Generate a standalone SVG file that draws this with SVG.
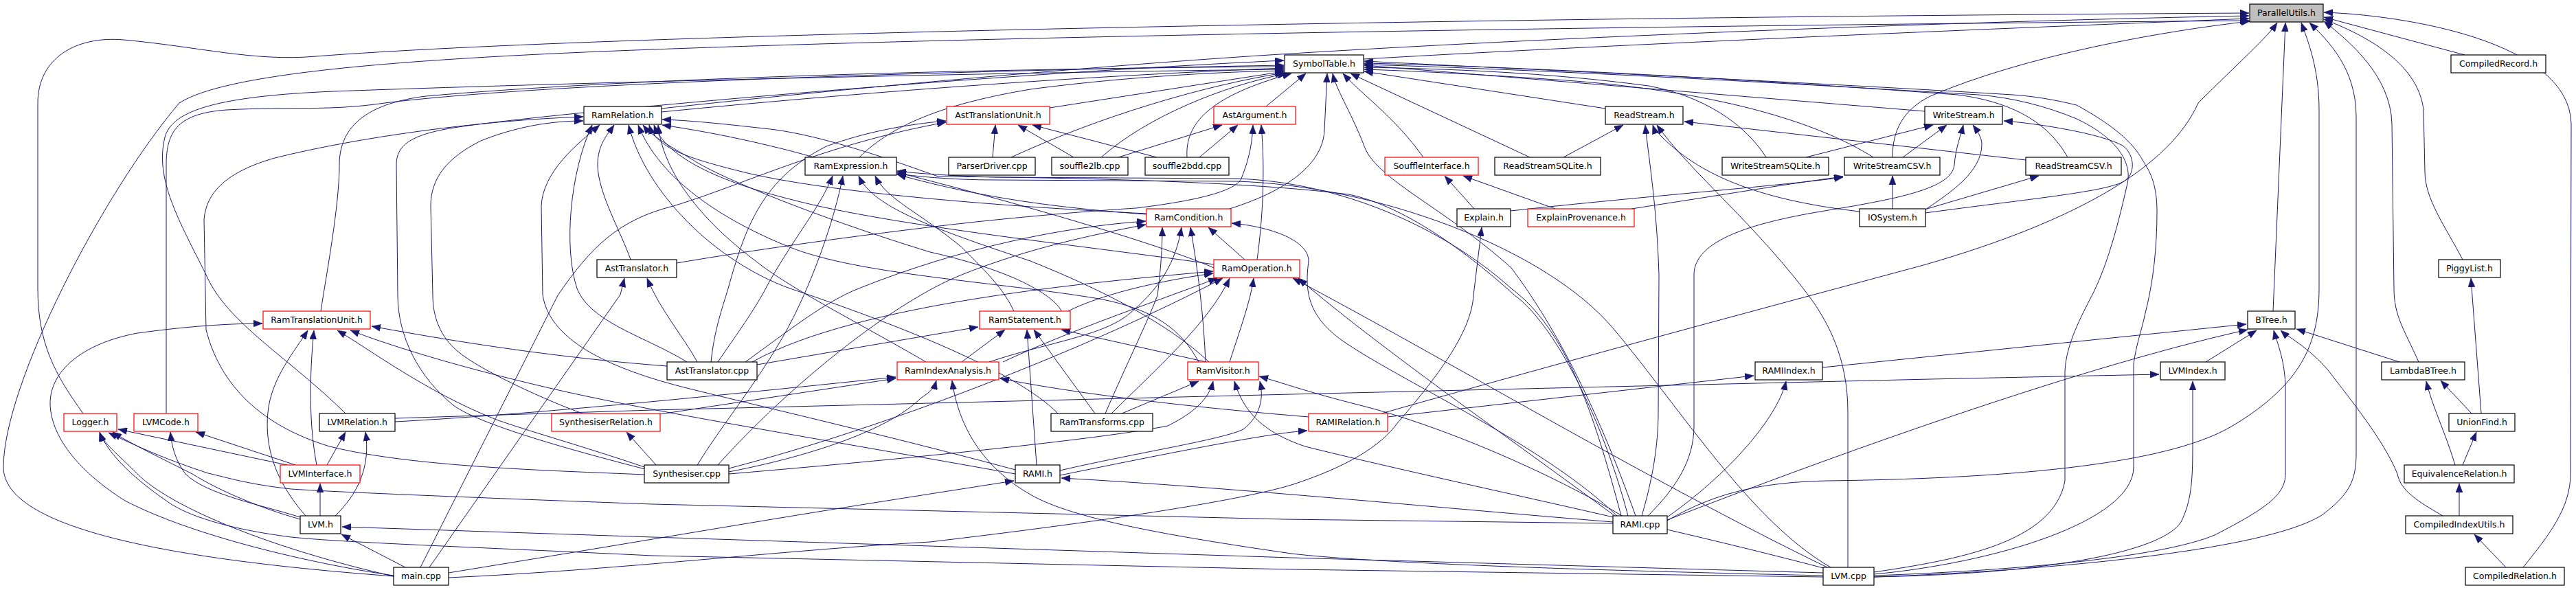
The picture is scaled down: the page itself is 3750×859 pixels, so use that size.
<svg xmlns="http://www.w3.org/2000/svg" width="3750" height="859" viewBox="0 0 3750 859">
<defs>
<marker id="ah" viewBox="0 0 13 10" refX="13" refY="5" markerWidth="13" markerHeight="10" markerUnits="userSpaceOnUse" orient="auto"><path d="M0,0L13,5L0,10z" fill="#191970" stroke="#191970" stroke-width="0.5"/></marker>
<style>
.e{fill:none;stroke:#191970;stroke-width:1;marker-end:url(#ah)}
.n rect{fill:#ffffff;stroke:#000000;stroke-width:1.2}
.r rect{fill:#ffffff;stroke:#ff0000;stroke-width:1.2}
.g rect{fill:#bfbfbf;stroke:#000000;stroke-width:1.2}
text{font-family:"DejaVu Sans","Liberation Sans",Arial,sans-serif;font-size:12.5px;text-anchor:middle;fill:#000000}
</style>
</defs>
<rect width="3750" height="859" fill="#ffffff"/>
<g id="edges">
<path class="e" d="M121,602 C80,545 55,500 55,420 L55,150 C55,85 110,52 180,58 C290,68 370,90 460,82 C900,48 2200,25 3274,19"/>
<path class="e" d="M573,839 C250,815 5,770 5,680 C5,560 150,280 261,150 C330,105 600,85 950,72 C1600,48 2600,36 3274,30"/>
<path class="e" d="M1985,86 C2400,62 3000,38 3274,27"/>
<path class="e" d="M963,158 C1200,132 1600,95 1880,78 C2300,52 2900,30 3274,23"/>
<path class="e" d="M2755,229 C2755,190 2770,160 2810,140 C2950,80 3150,45 3275,31"/>
<path class="e" d="M2011,602 C2300,520 2600,440 2800,386 C3030,320 3160,240 3200,150 C3260,90 3300,55 3315,33"/>
<path class="e" d="M3309,453 L3327,33"/>
<path class="e" d="M2427,758 C2500,715 2570,702 2660,700 C2900,697 3150,680 3250,620 C3350,560 3376,500 3376,420 L3376,160 C3376,100 3360,60 3350,33"/>
<path class="e" d="M2728,840 C3000,830 3300,800 3380,750 C3420,720 3430,700 3430,660 L3430,170 C3430,100 3390,60 3362,33"/>
<path class="e" d="M3521,527 C3500,480 3485,460 3485,420 L3482,180 C3480,110 3420,60 3383,31"/>
<path class="e" d="M3585,378 C3560,330 3530,290 3530,250 L3528,160 C3520,90 3440,50 3383,28"/>
<path class="e" d="M3588,80 L3383,25"/>
<path class="e" d="M3673,826 C3710,780 3742,740 3742,690 L3743,180 C3740,60 3500,22 3383,18"/>
<path class="e" d="M1843,155 L1901,107"/>
<path class="e" d="M1790,304 C1850,285 1925,250 1928,190 L1932,107"/>
<path class="e" d="M2381,751 C2320,580 2260,470 2200,390 C2100,300 2000,260 1985,210 C1965,160 1945,130 1940,107"/>
<path class="e" d="M2072,229 C2030,170 1985,140 1955,107"/>
<path class="e" d="M2227,229 L1966,107"/>
<path class="e" d="M2337,158 L1986,104"/>
<path class="e" d="M2571,229 C2540,180 2480,140 2400,125 C2250,105 2100,100 1986,98"/>
<path class="e" d="M2727,229 C2650,180 2500,130 2250,115 C2150,108 2050,103 1986,101"/>
<path class="e" d="M2802,162 L1986,95"/>
<path class="e" d="M3010,229 C2985,185 2940,150 2850,138 C2500,112 2200,97 1986,92"/>
<path class="e" d="M2728,836 C2900,820 3106,760 3106,680 L3106,530 C3110,500 3118,480 3122,460 C3135,410 3140,360 3140,307 C3140,270 3130,250 3123,240 C3110,215 3090,190 3023,153 C2990,145 2960,140 2930,138 C2600,118 2200,100 1986,89"/>
<path class="e" d="M963,163 C1300,130 1600,110 1869,99"/>
<path class="e" d="M1528,157 L1869,104"/>
<path class="e" d="M1472,229 C1600,170 1750,125 1869,106"/>
<path class="e" d="M1603,229 C1670,170 1780,125 1873,107"/>
<path class="e" d="M1728,229 C1725,180 1760,140 1880,107"/>
<path class="e" d="M1251,229 C1300,180 1380,150 1500,130 C1650,110 1800,104 1869,103"/>
<path class="e" d="M467,453 C475,400 494,300 494,240 C494,180 540,150 620,140 C900,115 1400,100 1869,97"/>
<path class="e" d="M242,602 L242,240 C242,190 260,165 330,160 C420,155 480,162 560,150 C800,120 1400,103 1869,95"/>
<path class="e" d="M503,602 C420,520 330,470 300,400 C260,320 225,260 240,200 C250,160 320,140 485,133 C900,118 1500,105 1869,101"/>
<path class="e" d="M939,683 C850,660 700,620 660,590 C610,550 579,490 579,430 L577,240 C577,210 600,195 667,185 C800,165 1400,110 1869,88"/>
<path class="e" d="M1445,229 L1449,182"/>
<path class="e" d="M1563,229 L1482,182"/>
<path class="e" d="M1684,229 L1503,182"/>
<path class="e" d="M1035,527 C1040,480 1051,450 1060,420 C1085,330 1110,260 1203,213 C1260,192 1320,181 1377,176"/>
<path class="e" d="M612,826 L812,430 C860,360 900,320 980,300 C1080,270 1200,210 1377,178"/>
<path class="e" d="M1628,229 L1779,182"/>
<path class="e" d="M1746,229 L1802,182"/>
<path class="e" d="M985,383 C1150,355 1350,330 1450,320 C1550,310 1620,305 1654,303 C1760,290 1800,275 1807,260 C1815,240 1823,215 1824,182"/>
<path class="e" d="M1830,378 C1838,320 1842,250 1836,182"/>
<path class="e" d="M939,691 C800,685 600,680 480,650 C380,620 320,560 300,480 L297,320 C300,280 330,250 400,230 C520,200 700,175 849,170"/>
<path class="e" d="M848,602 C800,585 700,540 667,512 C640,490 630,460 630,430 L627,300 C627,260 650,230 700,205 C750,185 800,176 849,176"/>
<path class="e" d="M1478,684 C1300,636 1100,590 1000,565 C900,540 800,500 790,429 L788,300 C790,250 840,210 873,182"/>
<path class="e" d="M918,378 C905,340 870,280 870,240 C870,210 885,195 894,182"/>
<path class="e" d="M1185,229 C1100,205 1020,190 964,182"/>
<path class="e" d="M1669,311 C1450,300 1200,280 1080,250 C1000,230 955,215 945,182"/>
<path class="e" d="M2370,751 C2330,600 2260,470 2205,430 C2150,380 2050,300 1963,283 C1800,262 1500,258 1366,257 C1330,245 1200,195 1112,187 C1050,180 1000,175 964,174"/>
<path class="e" d="M1767,385 C1600,360 1300,330 1150,290 C1050,265 970,230 952,182"/>
<path class="e" d="M1545,453 C1540,440 1500,400 1354,367 C1200,320 1050,260 1009,233 C980,215 950,200 936,182"/>
<path class="e" d="M1348,527 C1250,470 1150,420 1100,380 C1020,320 965,250 958,182"/>
<path class="e" d="M1745,527 C1720,480 1680,450 1600,435 C1450,410 1250,400 1150,360 C1050,320 960,260 929,182"/>
<path class="e" d="M1540,602 C1480,540 1300,470 1150,420 C1040,380 940,280 915,182"/>
<path class="e" d="M1000,527 C940,490 860,470 840,420 C820,360 830,250 862,182"/>
<path class="e" d="M1669,312 C1500,300 1400,280 1306,254"/>
<path class="e" d="M1767,390 C1700,360 1500,300 1306,251"/>
<path class="e" d="M1476,453 C1460,420 1440,400 1400,360 C1340,310 1290,290 1274,256"/>
<path class="e" d="M1760,527 C1700,470 1600,420 1500,380 C1350,330 1270,300 1250,256"/>
<path class="e" d="M1045,527 C1070,490 1100,450 1120,410 C1160,340 1195,300 1212,256"/>
<path class="e" d="M1015,677 C1050,620 1100,560 1140,490 C1180,420 1215,320 1227,256"/>
<path class="e" d="M2360,751 C2320,600 2280,480 2200,420 C2100,330 1950,265 1800,260 L1450,258 C1380,256 1330,252 1306,249"/>
<path class="e" d="M2665,826 C2550,760 2450,600 2350,480 C2250,360 2000,270 1800,264 L1450,262 C1380,262 1330,256 1306,253"/>
<path class="e" d="M1812,378 L1759,331"/>
<path class="e" d="M1755,527 C1752,460 1745,400 1733,331"/>
<path class="e" d="M1440,527 C1520,500 1600,490 1640,460 C1690,420 1712,380 1720,331"/>
<path class="e" d="M1609,602 C1640,530 1670,470 1685,430 C1690,390 1692,360 1692,331"/>
<path class="e" d="M1085,527 C1150,480 1200,440 1250,420 C1400,360 1550,330 1668,322"/>
<path class="e" d="M1045,677 C1150,560 1300,440 1400,400 C1500,360 1600,340 1668,327"/>
<path class="e" d="M2355,752 C2250,650 2050,560 1960,500 C1900,460 1900,420 1905,380 C1905,350 1850,330 1793,325"/>
<path class="e" d="M1555,453 C1600,430 1680,410 1766,398"/>
<path class="e" d="M1790,527 C1805,480 1820,440 1825,405"/>
<path class="e" d="M1460,527 C1560,480 1680,440 1772,405"/>
<path class="e" d="M1095,527 C1250,440 1600,410 1766,395"/>
<path class="e" d="M1618,602 C1680,540 1760,470 1790,405"/>
<path class="e" d="M1061,682 C1300,620 1600,500 1780,405"/>
<path class="e" d="M2352,752 C2200,640 2000,500 1890,405"/>
<path class="e" d="M2660,826 C2400,700 2100,520 1882,405"/>
<path class="e" d="M1400,527 L1463,480"/>
<path class="e" d="M1509,677 L1495,480"/>
<path class="e" d="M1594,602 L1505,480"/>
<path class="e" d="M1756,527 L1545,480"/>
<path class="e" d="M1102,531 L1424,476"/>
<path class="e" d="M575,614 C800,602 1100,570 1304,549"/>
<path class="e" d="M961,603 L1304,551"/>
<path class="e" d="M1061,687 C1200,660 1300,620 1340,580 C1355,570 1360,565 1363,554"/>
<path class="e" d="M2654,838 C2300,830 2000,820 1880,806 C1700,780 1560,755 1500,720 C1430,680 1395,620 1386,554"/>
<path class="e" d="M1905,607 C1700,590 1550,570 1456,551"/>
<path class="e" d="M1633,602 L1745,555"/>
<path class="e" d="M1061,690 C1300,670 1600,640 1700,620 C1740,600 1760,580 1766,555"/>
<path class="e" d="M1543,685 C1650,660 1780,640 1810,625 C1835,605 1840,580 1834,555"/>
<path class="e" d="M2363,752 C2260,690 2100,620 1980,590 C1900,570 1860,555 1833,548"/>
<path class="e" d="M2658,828 C2400,760 2100,700 1900,650 C1840,630 1810,600 1797,555"/>
<path class="e" d="M2020,607 L2553,547"/>
<path class="e" d="M2427,753 C2530,680 2590,600 2600,555"/>
<path class="e" d="M1543,692 C1700,660 1850,630 1903,627"/>
<path class="e" d="M2348,760 C2100,740 1800,710 1545,696"/>
<path class="e" d="M653,834 C800,810 950,785 1100,760 C1250,735 1400,712 1476,700"/>
<path class="e" d="M2276,229 L2363,182"/>
<path class="e" d="M2949,233 L2452,177"/>
<path class="e" d="M2390,751 C2405,700 2414,650 2414,600 L2415,400 C2412,300 2400,230 2395,182"/>
<path class="e" d="M2707,308 C2550,290 2470,250 2420,200 C2412,192 2408,188 2406,182"/>
<path class="e" d="M2690,826 L2690,600 C2690,520 2660,470 2640,440 C2560,330 2460,250 2412,182"/>
<path class="e" d="M2629,229 L2814,182"/>
<path class="e" d="M2770,229 L2834,182"/>
<path class="e" d="M2399,751 C2440,710 2466,670 2466,620 L2466,400 C2466,350 2550,325 2650,308 C2760,290 2842,275 2845,240 C2847,215 2855,195 2858,182"/>
<path class="e" d="M2803,305 C2840,280 2885,250 2885,210 C2885,200 2878,190 2872,182"/>
<path class="e" d="M2803,310 C2950,290 3060,280 3090,265 C3110,255 3108,225 3090,212 C3060,195 2970,180 2917,176"/>
<path class="e" d="M2728,833 C2850,815 2990,790 3006,700 L3006,540 C3008,500 3030,460 3048,425 C3070,380 3085,320 3097,267 C3104,235 3080,200 3023,173 C2980,155 2930,142 2880,138 C2500,115 2200,100 1986,94"/>
<path class="e" d="M2199,307 C2400,285 2600,270 2683,258"/>
<path class="e" d="M2375,304 C2500,285 2600,268 2683,257"/>
<path class="e" d="M2755,304 L2755,256"/>
<path class="e" d="M2802,305 L2968,256"/>
<path class="e" d="M2146,304 L2103,256"/>
<path class="e" d="M2264,304 L2130,256"/>
<path class="e" d="M653,841 C900,830 1150,800 1354,789 C1600,760 1800,730 1880,706 C1960,680 2010,650 2035,615 C2100,540 2142,480 2145,430 L2157,331"/>
<path class="e" d="M2653,535 L3270,472"/>
<path class="e" d="M2427,757 C2600,690 3000,540 3272,480"/>
<path class="e" d="M3211,527 L3285,481"/>
<path class="e" d="M2728,838 C2950,830 3150,810 3224,779 C3300,740 3327,720 3327,690 L3327,560 C3325,520 3315,500 3310,481"/>
<path class="e" d="M3556,751 C3520,730 3495,715 3490,690 C3470,640 3420,580 3390,540 C3360,505 3330,490 3320,481"/>
<path class="e" d="M3493,527 L3343,479"/>
<path class="e" d="M575,609 L950,597 L1880,574 L2810,552 L3143,545"/>
<path class="e" d="M2728,840 C3000,835 3150,800 3175,760 C3190,730 3192,700 3192,650 L3192,555"/>
<path class="e" d="M3598,602 L3553,554"/>
<path class="e" d="M3574,677 C3560,630 3540,590 3532,555"/>
<path class="e" d="M3585,677 L3605,629"/>
<path class="e" d="M3580,751 L3580,704"/>
<path class="e" d="M3648,826 L3602,778"/>
<path class="e" d="M3612,602 L3597,405"/>
<path class="e" d="M418,677 L172,625"/>
<path class="e" d="M437,756 C380,740 320,715 280,690 C220,660 180,640 164,629"/>
<path class="e" d="M573,839 C400,800 250,740 200,690 C170,660 150,645 145,629"/>
<path class="e" d="M2348,762 L1870,756 L950,734 C700,725 480,716 424,712 C360,705 330,695 303,689 C230,665 190,645 158,630"/>
<path class="e" d="M2654,840 L1880,829 L950,809 C700,797 500,790 424,782 C330,770 270,750 242,729 C200,700 160,665 145,630"/>
<path class="e" d="M430,677 L285,629"/>
<path class="e" d="M437,753 C380,735 300,720 270,690 C255,670 250,650 248,629"/>
<path class="e" d="M476,677 L503,629"/>
<path class="e" d="M488,751 C520,720 540,680 532,629"/>
<path class="e" d="M466,751 L466,704"/>
<path class="e" d="M573,838 C450,820 280,780 182,729 C120,690 75,640 73,589 C72,540 120,500 200,485 C280,474 340,471 382,471"/>
<path class="e" d="M445,751 C400,700 385,650 390,600 C395,550 430,510 448,481"/>
<path class="e" d="M461,677 C450,620 450,550 457,481"/>
<path class="e" d="M938,680 C850,650 760,625 720,610 C620,570 540,510 491,481"/>
<path class="e" d="M1478,690 C1200,640 950,600 800,565 C650,530 560,500 510,481"/>
<path class="e" d="M971,533 C800,520 650,495 541,475"/>
<path class="e" d="M955,677 L912,629"/>
<path class="e" d="M1015,527 C995,490 960,450 942,405"/>
<path class="e" d="M625,826 L903,429 L909,405"/>
<path class="e" d="M590,826 L497,778"/>
<path class="e" d="M2654,834 L1880,812 L950,782 L498,767"/>
</g>
<g id="ParallelUtils_h" class="g"><rect x="3275" y="6" width="107" height="26"/><text x="3328.5" y="23">ParallelUtils.h</text></g>
<g id="SymbolTable_h" class="n"><rect x="1870" y="80" width="115" height="26"/><text x="1927.5" y="97">SymbolTable.h</text></g>
<g id="CompiledRecord_h" class="n"><rect x="3568" y="80" width="138" height="26"/><text x="3637" y="97">CompiledRecord.h</text></g>
<g id="RamRelation_h" class="n"><rect x="850" y="155" width="113" height="26"/><text x="906.5" y="172">RamRelation.h</text></g>
<g id="AstTranslationUnit_h" class="r"><rect x="1378" y="155" width="150" height="26"/><text x="1453" y="172">AstTranslationUnit.h</text></g>
<g id="AstArgument_h" class="r"><rect x="1767" y="155" width="119" height="26"/><text x="1826.5" y="172">AstArgument.h</text></g>
<g id="ReadStream_h" class="n"><rect x="2337" y="155" width="113" height="26"/><text x="2393.5" y="172">ReadStream.h</text></g>
<g id="WriteStream_h" class="n"><rect x="2802" y="155" width="113" height="26"/><text x="2858.5" y="172">WriteStream.h</text></g>
<g id="RamExpression_h" class="n"><rect x="1172" y="229" width="133" height="26"/><text x="1238.5" y="246">RamExpression.h</text></g>
<g id="ParserDriver_cpp" class="n"><rect x="1381" y="229" width="126" height="26"/><text x="1444" y="246">ParserDriver.cpp</text></g>
<g id="souffle2lb_cpp" class="n"><rect x="1531" y="229" width="111" height="26"/><text x="1586.5" y="246">souffle2lb.cpp</text></g>
<g id="souffle2bdd_cpp" class="n"><rect x="1667" y="229" width="122" height="26"/><text x="1728" y="246">souffle2bdd.cpp</text></g>
<g id="SouffleInterface_h" class="r"><rect x="2016" y="229" width="136" height="26"/><text x="2084" y="246">SouffleInterface.h</text></g>
<g id="ReadStreamSQLite_h" class="n"><rect x="2176" y="229" width="154" height="26"/><text x="2253" y="246">ReadStreamSQLite.h</text></g>
<g id="WriteStreamSQLite_h" class="n"><rect x="2507" y="229" width="155" height="26"/><text x="2584.5" y="246">WriteStreamSQLite.h</text></g>
<g id="WriteStreamCSV_h" class="n"><rect x="2685" y="229" width="139" height="26"/><text x="2754.5" y="246">WriteStreamCSV.h</text></g>
<g id="ReadStreamCSV_h" class="n"><rect x="2949" y="229" width="139" height="26"/><text x="3018.5" y="246">ReadStreamCSV.h</text></g>
<g id="RamCondition_h" class="r"><rect x="1669" y="304" width="123" height="26"/><text x="1730.5" y="321">RamCondition.h</text></g>
<g id="Explain_h" class="n"><rect x="2121" y="304" width="78" height="26"/><text x="2160" y="321">Explain.h</text></g>
<g id="ExplainProvenance_h" class="r"><rect x="2224" y="304" width="155" height="26"/><text x="2301.5" y="321">ExplainProvenance.h</text></g>
<g id="IOSystem_h" class="n"><rect x="2707" y="304" width="96" height="26"/><text x="2755" y="321">IOSystem.h</text></g>
<g id="AstTranslator_h" class="n"><rect x="869" y="378" width="116" height="26"/><text x="927" y="395">AstTranslator.h</text></g>
<g id="RamOperation_h" class="r"><rect x="1767" y="378" width="125" height="26"/><text x="1829.5" y="395">RamOperation.h</text></g>
<g id="PiggyList_h" class="n"><rect x="3550" y="378" width="90" height="26"/><text x="3595" y="395">PiggyList.h</text></g>
<g id="RamTranslationUnit_h" class="r"><rect x="383" y="453" width="156" height="26"/><text x="461" y="470">RamTranslationUnit.h</text></g>
<g id="RamStatement_h" class="r"><rect x="1426" y="453" width="132" height="26"/><text x="1492" y="470">RamStatement.h</text></g>
<g id="BTree_h" class="n"><rect x="3272" y="453" width="69" height="26"/><text x="3306.5" y="470">BTree.h</text></g>
<g id="AstTranslator_cpp" class="n"><rect x="971" y="527" width="131" height="26"/><text x="1036.5" y="544">AstTranslator.cpp</text></g>
<g id="RamIndexAnalysis_h" class="r"><rect x="1306" y="527" width="148" height="26"/><text x="1380" y="544">RamIndexAnalysis.h</text></g>
<g id="RamVisitor_h" class="r"><rect x="1729" y="527" width="103" height="26"/><text x="1780.5" y="544">RamVisitor.h</text></g>
<g id="RAMIIndex_h" class="n"><rect x="2555" y="527" width="98" height="26"/><text x="2604" y="544">RAMIIndex.h</text></g>
<g id="LVMIndex_h" class="n"><rect x="3145" y="527" width="94" height="26"/><text x="3192" y="544">LVMIndex.h</text></g>
<g id="LambdaBTree_h" class="n"><rect x="3467" y="527" width="121" height="26"/><text x="3527.5" y="544">LambdaBTree.h</text></g>
<g id="Logger_h" class="r"><rect x="93" y="602" width="77" height="26"/><text x="131.5" y="619">Logger.h</text></g>
<g id="LVMCode_h" class="r"><rect x="195" y="602" width="93" height="26"/><text x="241.5" y="619">LVMCode.h</text></g>
<g id="LVMRelation_h" class="n"><rect x="465" y="602" width="110" height="26"/><text x="520" y="619">LVMRelation.h</text></g>
<g id="SynthesiserRelation_h" class="r"><rect x="803" y="602" width="158" height="26"/><text x="882" y="619">SynthesiserRelation.h</text></g>
<g id="RamTransforms_cpp" class="n"><rect x="1530" y="602" width="148" height="26"/><text x="1604" y="619">RamTransforms.cpp</text></g>
<g id="RAMIRelation_h" class="r"><rect x="1905" y="602" width="115" height="26"/><text x="1962.5" y="619">RAMIRelation.h</text></g>
<g id="UnionFind_h" class="n"><rect x="3565" y="602" width="96" height="26"/><text x="3613" y="619">UnionFind.h</text></g>
<g id="LVMInterface_h" class="r"><rect x="408" y="677" width="116" height="26"/><text x="466" y="694">LVMInterface.h</text></g>
<g id="Synthesiser_cpp" class="n"><rect x="938" y="677" width="123" height="26"/><text x="999.5" y="694">Synthesiser.cpp</text></g>
<g id="RAMI_h" class="n"><rect x="1478" y="677" width="65" height="26"/><text x="1510.5" y="694">RAMI.h</text></g>
<g id="EquivalenceRelation_h" class="n"><rect x="3500" y="677" width="160" height="26"/><text x="3580" y="694">EquivalenceRelation.h</text></g>
<g id="LVM_h" class="n"><rect x="437" y="751" width="59" height="26"/><text x="466.5" y="768">LVM.h</text></g>
<g id="RAMI_cpp" class="n"><rect x="2348" y="751" width="79" height="26"/><text x="2387.5" y="768">RAMI.cpp</text></g>
<g id="CompiledIndexUtils_h" class="n"><rect x="3502" y="751" width="156" height="26"/><text x="3580" y="768">CompiledIndexUtils.h</text></g>
<g id="main_cpp" class="n"><rect x="573" y="826" width="80" height="26"/><text x="613" y="843">main.cpp</text></g>
<g id="LVM_cpp" class="n"><rect x="2654" y="826" width="74" height="26"/><text x="2691" y="843">LVM.cpp</text></g>
<g id="CompiledRelation_h" class="n"><rect x="3589" y="826" width="144" height="26"/><text x="3661" y="843">CompiledRelation.h</text></g>
</svg>
